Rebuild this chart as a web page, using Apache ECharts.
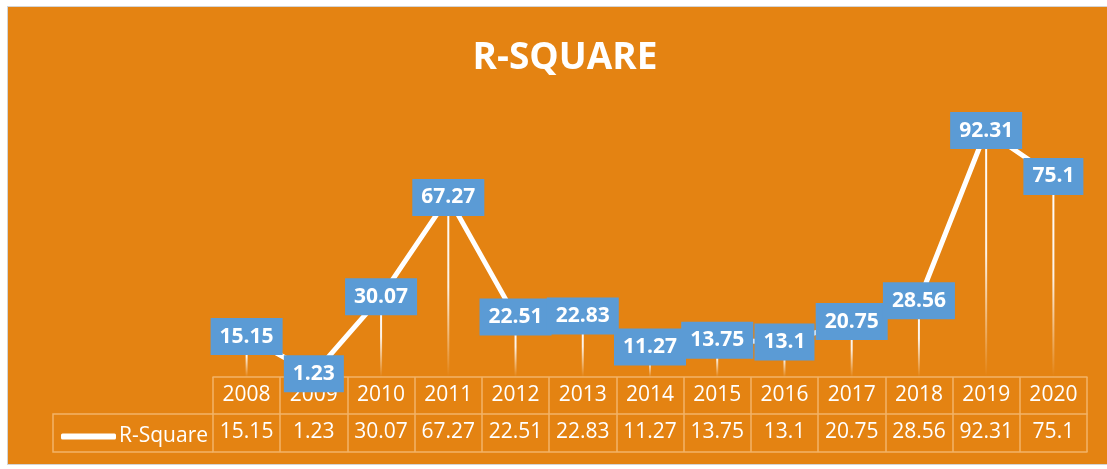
<!DOCTYPE html>
<html>
<head>
<meta charset="utf-8">
<script src="https://cdn.jsdelivr.net/npm/echarts@6/dist/echarts.min.js"></script>
<style>
  html, body { margin: 0; padding: 0; background: #ffffff; }
  #bg { position: absolute; left: 7px; top: 6px; width: 1100px; height: 457px;
        background: #E48312; border-top: 1px solid #d4d4d4; border-left: 1px solid #d4d4d4; border-bottom: 1px solid #d4d4d4; }
  #chart { position: absolute; left: 0; top: 0; width: 1107px; height: 469px; }
</style>
</head>
<body>
<div id="bg"></div>
<div id="chart"></div>
<script>
const titleText = 'R-SQUARE';
const seriesName = 'R-Square';
const years = ['2008','2009','2010','2011','2012','2013','2014','2015','2016','2017','2018','2019','2020'];
const rSquare = [15.15, 1.23, 30.07, 67.27, 22.51, 22.83, 11.27, 13.75, 13.1, 20.75, 28.56, 92.31, 75.1];

const tableLine = '#F2B468';
const font = 'Open Sans';

const chart = echarts.init(document.getElementById('chart'), null, { renderer: 'canvas' });

chart.setOption({
  backgroundColor: 'transparent',
  animation: false,
  title: {
    text: titleText,
    left: 560, textAlign: 'center',
    top: 33,
    textStyle: { color: '#ffffff', fontSize: 37, fontWeight: 'bold', fontFamily: font, lineHeight: 40 }
  },
  legend: {
    data: [seriesName],
    left: 56, top: 421,
    icon: 'roundRect',
    itemWidth: 55, itemHeight: 6, itemGap: 0,
    textStyle: { color: '#ffffff', fontSize: 21, fontFamily: font, padding: [0,0,0,-2] },
    selectedMode: false
  },
  grid: { left: 213, right: 20, top: 110, bottom: 92, containLabel: false },
  xAxis: [
    {
      type: 'category', data: years, boundaryGap: true, position: 'bottom',
      axisLine: { show: true, lineStyle: { color: tableLine, width: 1.5 } },
      axisTick: { show: true, length: 37, interval: 0, lineStyle: { color: tableLine, width: 1.5 } },
      axisLabel: { color: '#ffffff', fontSize: 21, fontFamily: font, margin: 8, interval: 0 }
    },
    {
      type: 'category', data: years, boundaryGap: true, position: 'bottom', offset: 37,
      axisLine: { show: true, lineStyle: { color: tableLine, width: 1.5 } },
      axisTick: { show: true, length: 38, interval: 0, lineStyle: { color: tableLine, width: 1.5 } },
      axisLabel: { color: '#ffffff', fontSize: 21, fontFamily: font, margin: 8, interval: 0,
                   formatter: (v, i) => String(rSquare[i]) }
    },
    {
      type: 'category', data: years, boundaryGap: true, position: 'bottom', offset: 75,
      axisLine: { show: true, lineStyle: { color: tableLine, width: 1.5 } },
      axisTick: { show: false }, axisLabel: { show: false }
    }
  ],
  yAxis: { type: 'value', min: 0, max: 100, show: false, splitLine: { show: false } },
  graphic: [
    { type: 'polyline', silent: true, z: 1,
      shape: { points: [[213, 414], [53, 414], [53, 452], [213, 452]] },
      style: { stroke: tableLine, lineWidth: 1.5, fill: null } }
  ],
  series: [
    {
      name: 'drop', type: 'bar', data: rSquare, barWidth: 2, silent: true, z: 1,
      itemStyle: {
        color: new echarts.graphic.LinearGradient(0, 0, 0, 1, [
          { offset: 0, color: 'rgba(255,255,255,1)' },
          { offset: 0.5, color: 'rgba(255,255,255,0.9)' },
          { offset: 1, color: 'rgba(255,255,255,0)' }
        ])
      }
    },
    {
      name: seriesName, type: 'line', data: rSquare, z: 3, silent: true,
      symbol: 'circle', symbolSize: 1,
      itemStyle: { color: '#ffffff' },
      lineStyle: { color: '#ffffff', width: 5 },
      label: {
        show: true, position: 'inside',
        color: '#ffffff', fontSize: 21, fontWeight: 'bold', fontFamily: font,
        backgroundColor: '#5B9BD5', padding: [7, 9, 7, 9], lineHeight: 23
      }
    }
  ]
});
</script>
</body>
</html>
